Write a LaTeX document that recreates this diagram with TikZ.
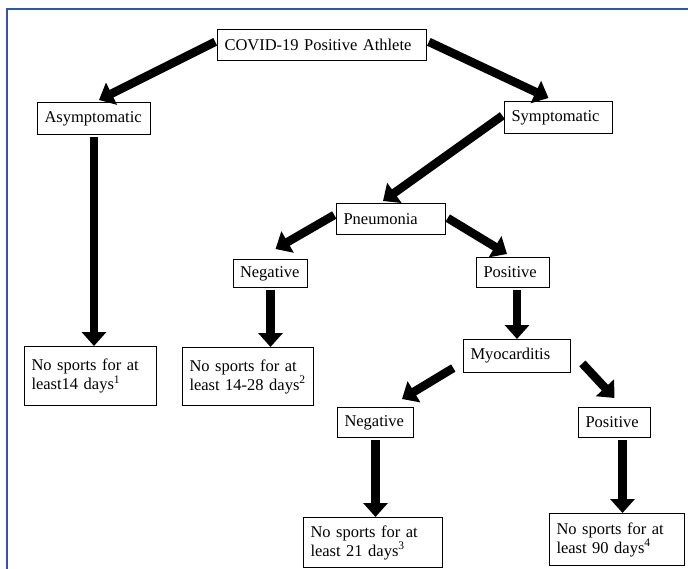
\documentclass[tikz,border=0pt]{standalone}
\usepackage{fontspec}
\setmainfont{Liberation Serif}
\newfontfamily\timesface{Liberation Serif}
\usetikzlibrary{arrows.meta,positioning}
\definecolor{frameblue}{RGB}{52,86,165}

\begin{document}
\begin{tikzpicture}[x=1pt, y=-1pt, font=\timesface\fontsize{16.5}{19}\selectfont,
        box/.style={draw, line width=1pt, inner xsep=7pt, inner ysep=0pt, align=left, anchor=north west},
        fat/.style={-{Triangle[length=14pt,width=24pt]}, line width=8.5pt, shorten <=2pt}]
        \useasboundingbox (0,0) rectangle (688,569);
        \draw[frameblue, line width=2pt] (7,569) -- (7,9.5) -- (688,9.5);
        % decision boxes
        \node[box, text width=195pt, minimum height=31pt] (covid) at (217,29) {COVID-19 Positive Athlete};
        \node[box, text width=99pt, minimum height=32pt] (asym) at (37,102) {Asymptomatic};
        \node[box, text width=94pt, minimum height=32pt] (sym) at (504,101) {Symptomatic};
        \node[box, text width=95pt, minimum height=31pt] (pneu) at (336,203) {Pneumonia};
        \node[box, text width=61pt, minimum height=28pt, inner xsep=6.5pt] (neg1) at (233,259) {Negative};
        \node[box, text width=59pt, minimum height=30pt] (pos1) at (476,257) {Positive};
        \node[box, text width=93pt, minimum height=33pt] (myo) at (463,339) {Myocarditis};
        \node[box, text width=62pt, minimum height=30pt] (neg2) at (337,407) {Negative};
        \node[box, text width=58pt, minimum height=30pt] (pos2) at (578,407) {Positive};
        % outcomes
        \node[box, text width=118pt, minimum height=59pt] (out1) at (24,346) {No sports for at\\least14 days\textsuperscript{1}};
        \node[box, text width=117pt, minimum height=58pt] (out2) at (182,347) {No sports for at\\least 14-28 days\textsuperscript{2}};
        \node[box, text width=125pt, minimum height=50pt] (out3) at (303,517) {No sports for at\\least 21 days\textsuperscript{3}};
        \node[box, text width=121pt, minimum height=52pt] (out4) at (549,513) {No sports for at\\least 90 days\textsuperscript{4}};
        % arrows
        \draw[fat] ([yshift=4pt]covid.west) -- ([xshift=5pt,yshift=2pt]asym.north);
        \draw[fat] ([yshift=4pt]covid.east) -- ([xshift=-10pt,yshift=3pt]sym.north);
        \draw[fat] ([yshift=3pt]sym.west) -- ([xshift=-8pt,yshift=2pt]pneu.north);
        \draw[fat] ([yshift=5pt]pneu.west) -- ([xshift=5pt,yshift=10pt]neg1.north);
        \draw[fat] ([yshift=2pt]pneu.east) -- ([xshift=-6pt,yshift=3pt]pos1.north);
        \draw[fat] (myo.north |- pos1.south) -- (myo.north);
        \draw[fat] ([xshift=-8pt,yshift=6pt]myo.south west) -- ([xshift=-12pt,yshift=8pt]neg2.north east);
        \draw[fat] ([xshift=10pt,yshift=-6pt]myo.east) -- ([yshift=9pt]pos2.north);
        \foreach \a/\b in {asym/out1, neg1/out2, neg2/out3}
            \draw[fat] (\a.south) -- (\a.south |- \b.north);
        \coordinate (p2s) at ([xshift=8pt]pos2.south);
        \draw[fat] (p2s) -- (p2s |- out4.north);
\end{tikzpicture}
\end{document}
